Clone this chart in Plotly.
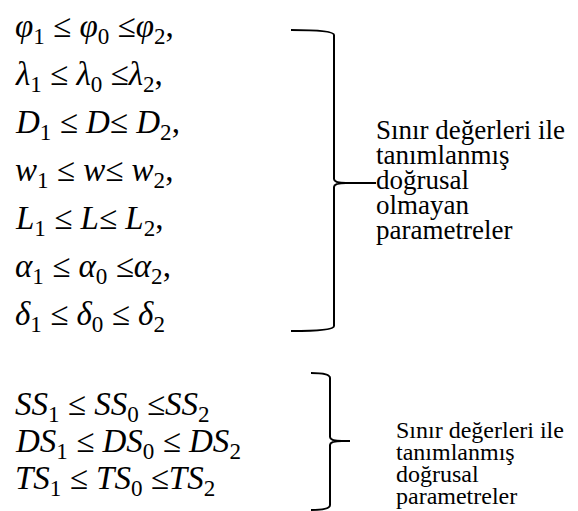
import plotly.graph_objects as go

# ---- content -------------------------------------------------------------
upper_symbols = ["φ", "λ", "D", "w", "L", "α", "δ"]
upper_mid_sub = ["0", "0", "", "", "", "0", "0"]
upper_sep2 = [" ≤", " ≤", "≤ ", "≤ ", "≤ ", " ≤", " ≤ "]
upper_trail = [",", ",", ",", ",", ",", ",", ""]
lower_symbols = ["SS", "DS", "TS"]
lower_mid_sub = ["0", "0", "0"]
lower_sep2 = [" ≤", " ≤ ", " ≤"]
upper_label = ["Sınır değerleri ile", "tanımlanmış", "doğrusal", "olmayan", "parametreler"]
lower_label = ["Sınır değerleri ile", "tanımlanmış", "doğrusal", "parametreler"]

# ---- layout constants (pixels) -------------------------------------------
W, H = 578, 511
EQ_FONT = 33
UP_TXT_FONT = 27
LO_TXT_FONT = 24
FONT = "Liberation Serif, Times New Roman, Times, serif"

up_row0, up_step = 20, 48
lo_row0, lo_step = 398, 37
eq_x = 5

def ineq(sym, mid, sep2, trail):
    s = f"<i>{sym}</i><sub>1</sub> ≤ <i>{sym}</i>"
    if mid:
        s += f"<sub>{mid}</sub>"
    s += f"{sep2}<i>{sym}</i><sub>2</sub>{trail}"
    return s

annotations = []
for i, (s, m, sp, t) in enumerate(zip(upper_symbols, upper_mid_sub, upper_sep2, upper_trail)):
    annotations.append(dict(x=eq_x, y=up_row0 + i * up_step, text=ineq(s, m, sp, t),
                            xanchor="left", yanchor="middle", showarrow=False,
                            font=dict(family=FONT, size=EQ_FONT, color="black")))
for i, (s, m, sp) in enumerate(zip(lower_symbols, lower_mid_sub, lower_sep2)):
    annotations.append(dict(x=eq_x, y=lo_row0 + i * lo_step, text=ineq(s, m, sp, ""),
                            xanchor="left", yanchor="middle", showarrow=False,
                            font=dict(family=FONT, size=EQ_FONT, color="black")))

up_txt_x, up_txt_y0, up_txt_step = 366, 122, 25.1
for i, t in enumerate(upper_label):
    annotations.append(dict(x=up_txt_x, y=up_txt_y0 + i * up_txt_step, text=t,
                            xanchor="left", yanchor="middle", showarrow=False,
                            font=dict(family=FONT, size=UP_TXT_FONT, color="black")))
lo_txt_x, lo_txt_y0, lo_txt_step = 386, 422, 22
for i, t in enumerate(lower_label):
    annotations.append(dict(x=lo_txt_x, y=lo_txt_y0 + i * lo_txt_step, text=t,
                            xanchor="left", yanchor="middle", showarrow=False,
                            font=dict(family=FONT, size=LO_TXT_FONT, color="black")))

def brace(xl, xv, xt, yt, yb, ym):
    r = 5
    return (f"M {xl},{yt} Q {xv},{yt} {xv},{yt + r} "
            f"L {xv},{ym - 4} Q {xv},{ym} {xv + 12},{ym} L {xt},{ym} "
            f"M {xv + 12},{ym} Q {xv},{ym} {xv},{ym + 4} "
            f"L {xv},{yb - r} Q {xv},{yb} {xl},{yb}")

shapes = [
    dict(type="path", path=brace(283, 326, 368, 22, 323, 175),
         line=dict(color="black", width=2)),
    dict(type="path", path=brace(303, 322, 342, 365, 502, 433),
         line=dict(color="black", width=2)),
]

fig = go.Figure()
fig.update_layout(
    width=W, height=H, margin=dict(l=0, r=0, t=0, b=0),
    paper_bgcolor="white", plot_bgcolor="white",
    xaxis=dict(range=[0, W], visible=False, fixedrange=True),
    yaxis=dict(range=[H, 0], visible=False, fixedrange=True),
    annotations=annotations, shapes=shapes, showlegend=False,
)
fig.write_html("out.html")
